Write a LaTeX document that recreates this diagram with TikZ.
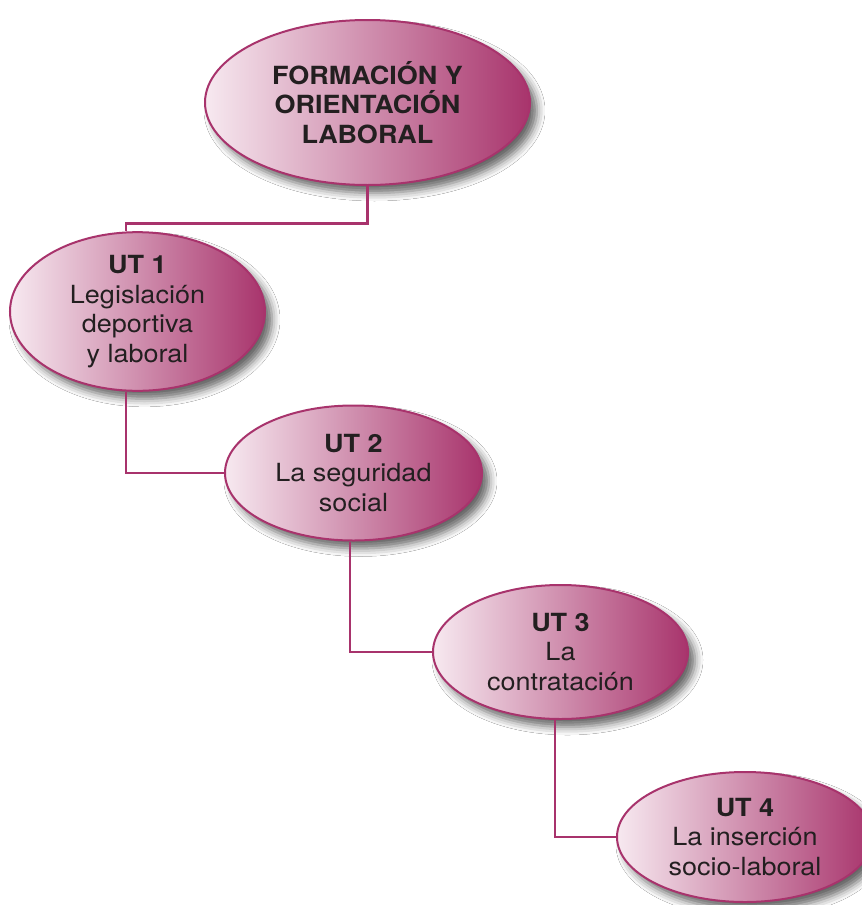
\documentclass[tikz,border=0pt]{standalone}
\usepackage{fontspec}
\setmainfont{TeX Gyre Heros}[FakeStretch=1.08]
\usetikzlibrary{shapes.geometric,shadows.blur}
\definecolor{bord}{HTML}{A8336C}
\definecolor{lite}{HTML}{F7E9F0}
\definecolor{midc}{HTML}{CF88AA}
\definecolor{dark}{HTML}{A8346C}
\definecolor{txt}{HTML}{231F20}
\tikzset{
  ell/.style={ellipse, draw=bord, line width=2pt, left color=lite, middle color=midc, right color=dark,
    inner sep=0pt, align=center, text=txt, font=\fontsize{25}{29.5}\selectfont,
    blur shadow={shadow xshift=7pt, shadow yshift=-8pt, shadow blur radius=8pt, shadow opacity=60}},
  conn/.style={draw=bord, line width=2.2pt}
}
\begin{document}
\begin{tikzpicture}[x=1pt,y=-1pt]
\useasboundingbox (0,0) rectangle (862,905);
\fill[white] (0,0) rectangle (862,905);
\clip (0,0) rectangle (862,905);
\node[ell, minimum width=325pt, minimum height=165pt, font=\fontsize{25}{29.5}\selectfont\bfseries] (top) at (367.5,102.5) {FORMACIÓN Y\\ORIENTACIÓN\\LABORAL};
\node[ell, minimum width=255pt, minimum height=133pt] (u1) at (137.5,311.5) {\textbf{UT 1}\\Legislación\\deportiva\\y laboral};
\node[ell, minimum width=257pt, minimum height=135pt] (u2) at (353.5,473) {\textbf{UT 2}\\La seguridad\\social};
\node[ell, minimum width=255pt, minimum height=134pt] (u3) at (560.5,652) {\textbf{UT 3}\\La\\contratación};
\node[ell, minimum width=256pt, minimum height=130pt] (u4) at (745,837) {\textbf{UT 4}\\La inserción\\socio-laboral};
\draw[conn] (top.south) -- ++(0,37.5) -| ([xshift=-11.5pt]u1.north);
\draw[conn] ([xshift=-11.5pt]u1.south) |- (u2.west);
\draw[conn] ([xshift=-3.5pt]u2.south) |- (u3.west);
\draw[conn] ([xshift=-5.5pt]u3.south) |- (u4.west);
\end{tikzpicture}
\end{document}
